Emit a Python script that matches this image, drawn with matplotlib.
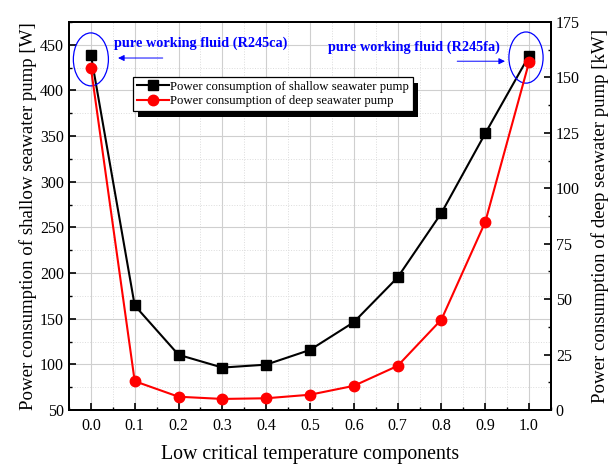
import matplotlib
matplotlib.use("Agg")
import matplotlib.pyplot as plt
from matplotlib.patches import Ellipse, Rectangle
from matplotlib.ticker import MultipleLocator

plt.rcParams['font.family'] = ['Liberation Serif', 'DejaVu Serif']
plt.rcParams['mathtext.fontset'] = 'stix'

# ---------- data ----------
x_frac = [0.0, 0.1, 0.2, 0.3, 0.4, 0.5, 0.6, 0.7, 0.8, 0.9, 1.0]
shallow_w = [439, 164.5, 110.5, 96.5, 99.7, 115.8, 146.2, 195.2, 265.8, 352.9, 438]
deep_kw = [154.4, 13.0, 6.0, 5.0, 5.3, 6.9, 10.9, 19.9, 40.8, 84.8, 156.9]

label_shallow = "Power consumption of shallow seawater pump"
label_deep = "Power consumption of deep seawater pump"
note_left = "pure working fluid (R245ca)"
note_right = "pure working fluid (R245fa)"

# ---------- figure ----------
fig = plt.figure(figsize=(6.12, 4.67), dpi=100)
ax = fig.add_axes([0.1127, 0.122, 0.7876, 0.831])
ax2 = ax.twinx()

ax.set_xlim(-0.05, 1.05)
ax.set_ylim(50, 475)
ax2.set_ylim(0, 175)

ax.xaxis.set_major_locator(MultipleLocator(0.1))
ax.xaxis.set_minor_locator(MultipleLocator(0.05))
ax.yaxis.set_major_locator(MultipleLocator(50))
ax.yaxis.set_minor_locator(MultipleLocator(25))
ax2.yaxis.set_major_locator(MultipleLocator(25))
ax2.yaxis.set_minor_locator(MultipleLocator(12.5))
ax.set_xticklabels([f"{v:.1f}" for v in ax.get_xticks()])

ax.grid(which='major', color='#cfcfcf', lw=0.8, ls='-')
ax.grid(which='minor', color='#dcdcdc', lw=0.7, ls=':')
ax.set_axisbelow(True)

for a in (ax, ax2):
    for s in a.spines.values():
        s.set_linewidth(1.4)
    a.tick_params(which='major', direction='in', length=5, width=1.2, labelsize=11.5)
    a.tick_params(which='minor', direction='in', length=2.5, width=1.0)
ax.tick_params(axis='x', which='both', top=False, pad=6)
ax.tick_params(axis='y', which='both', right=False)
ax2.tick_params(axis='y', which='both', left=False)

l1, = ax.plot(x_frac, shallow_w, color='black', lw=1.5, marker='s', ms=6.5,
              label=label_shallow, zorder=3)
l2, = ax2.plot(x_frac, deep_kw, color='red', lw=1.5, marker='o', ms=7.5,
               label=label_deep, zorder=3)

ax.set_xlabel("Low critical temperature components", fontsize=14.3, labelpad=8)
ax.set_ylabel("Power consumption of shallow seawater pump [W]", fontsize=13.6, labelpad=2)
ax2.set_ylabel("Power consumption of deep seawater pump [kW]", fontsize=13.6, labelpad=8)

# ---------- highlighted pure-fluid points ----------
ax.add_patch(Ellipse((x_frac[0], shallow_w[0] - 5), 0.08, 58, fill=False,
                     ec='blue', lw=0.9, zorder=4))
ax.add_patch(Ellipse((x_frac[-1] - 0.007, shallow_w[-1] - 2), 0.078, 56, fill=False,
                     ec='blue', lw=0.9, zorder=4))

ax.text(0.053, 452, note_left, color='blue', fontsize=10.3, fontweight='bold',
        va='center', ha='left', zorder=5)
ax.text(0.541, 447.5, note_right, color='blue', fontsize=10.3, fontweight='bold',
        va='center', ha='left', zorder=5)
arrow = dict(arrowstyle='-|>', color='blue', lw=0.7, mutation_scale=9,
             shrinkA=0, shrinkB=0)
ax.annotate("", xy=(0.062, 435.5), xytext=(0.164, 435.5), arrowprops=arrow, zorder=5)
ax.annotate("", xy=(0.945, 432), xytext=(0.836, 432), arrowprops=arrow, zorder=5)

# ---------- legend with hard black drop shadow ----------
leg = ax2.legend([l1, l2], [label_shallow, label_deep], loc='upper left',
                 bbox_to_anchor=(0.133, 0.858), borderaxespad=0, fontsize=9.2,
                 frameon=True, fancybox=False, edgecolor='black', framealpha=1,
                 handlelength=2.5, handletextpad=0.1, borderpad=0.3,
                 labelspacing=0.2)
leg.get_frame().set_linewidth(0.9)
leg.set_zorder(10)

fig.canvas.draw()
bb = leg.get_window_extent().transformed(fig.transFigure.inverted())
dx, dy = 5 / 612, 6 / 467
shadow = Rectangle((bb.x0 + dx, bb.y0 - dy), bb.width, bb.height,
                   transform=fig.transFigure, fc='black', ec='none', zorder=9)
ax2.add_artist(shadow)
shadow.set_clip_on(False)

fig.savefig("out.png", dpi=100)
